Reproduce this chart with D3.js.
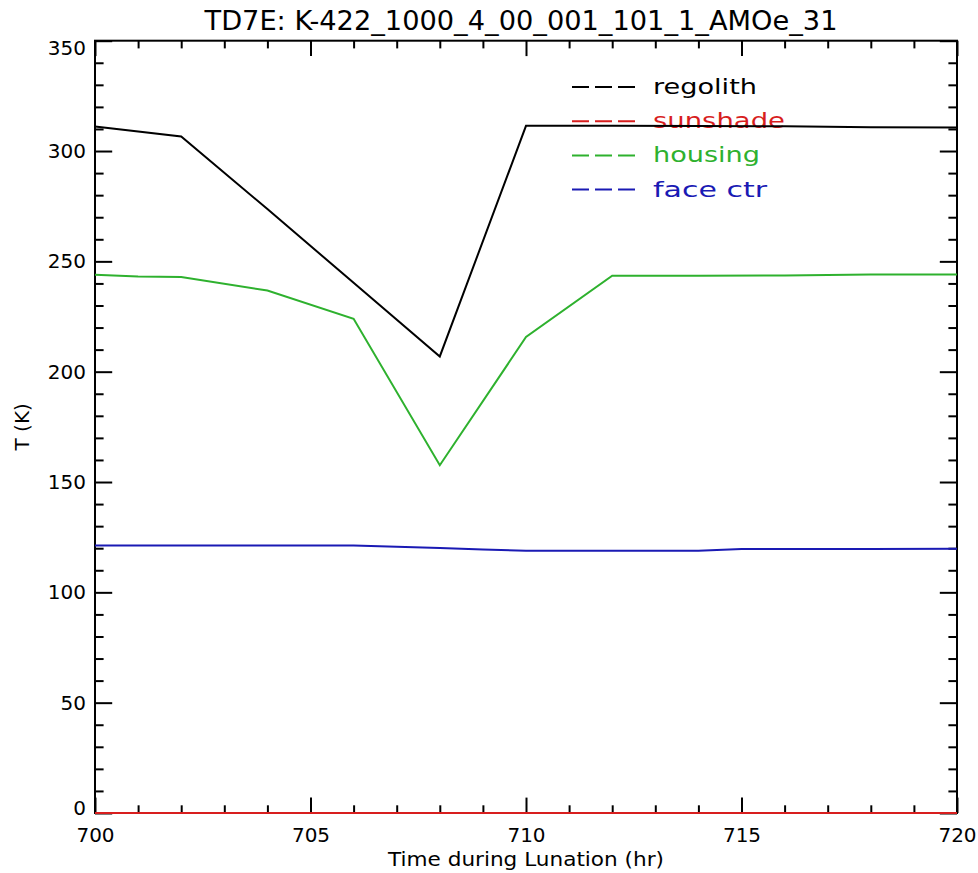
<!DOCTYPE html>
<html>
<head>
<meta charset="utf-8">
<script src="https://cdn.jsdelivr.net/npm/d3@7"></script>
<style>
  html, body { margin: 0; padding: 0; background: #fff; overflow: hidden; }
  svg { display: block; font-family: "DejaVu Sans", sans-serif; }
</style>
</head>
<body>
<svg id="chart" width="978" height="873"></svg>
<script>
// ---- data ----
const chartTitle = "TD7E: K-422_1000_4_00_001_101_1_AMOe_31";
const xLabel = "Time during Lunation (hr)";
const yLabel = "T (K)";
const xTicks = [700, 705, 710, 715, 720];
const yTicks = [0, 50, 100, 150, 200, 250, 300, 350];

const regolithHours = [700, 702, 704, 706, 708, 710, 712, 714, 716, 718, 720];
const regolithT     = [311.1, 306.6, 273.7, 240.3, 206.9, 311.4, 311.4, 311.3, 311.2, 310.8, 310.7];

const sunshadeHours = [700, 720];
const sunshadeT     = [0, 0];

const housingHours = [700, 701, 702, 704, 706, 708, 710, 712, 714, 716, 718, 720];
const housingT     = [243.9, 243.1, 242.9, 236.8, 224.0, 157.6, 215.7, 243.5, 243.5, 243.6, 244.1, 244.1];

const faceHours = [700, 702, 704, 706, 707, 708, 709, 710, 712, 714, 715, 716, 718, 720];
const faceT     = [121.2, 121.2, 121.2, 121.2, 120.7, 120.1, 119.4, 118.9, 118.9, 118.9, 119.6, 119.6, 119.6, 119.7];

const seriesNames  = ["regolith", "sunshade", "housing", "face ctr"];
const seriesColors = ["#000000", "#d81e1e", "#2eb12e", "#1a1ab4"];

// ---- layout ----
const svg = d3.select("#chart");
const L = 95, R = 957, T = 40.7, B = 813;
const x = d3.scaleLinear().domain([700, 720]).range([L, R]);
const y = d3.scaleLinear().domain([0, 350]).range([B, T]);
const xMajLen = 15.4, xMinLen = 7.7, yMajLen = 17.2, yMinLen = 8.6;
const xMinor = d3.range(700, 721, 1).filter(v => !xTicks.includes(v));
const yMinor = d3.range(0, 351, 10).filter(v => !yTicks.includes(v));

function styleAxis(g) {
  g.select(".domain").remove();
  g.selectAll(".tick line").attr("stroke", "#000").attr("stroke-width", 2);
  g.selectAll("text").attr("fill", "#000").attr("font-size", 20)
    .attr("font-family", "DejaVu Sans, sans-serif");
}

// bottom axis
svg.append("g").attr("transform", `translate(0,${B})`)
  .call(d3.axisBottom(x).tickValues(xTicks).tickSizeInner(-xMajLen).tickSizeOuter(0).tickPadding(14.5).tickFormat(d3.format("d")))
  .call(styleAxis);
svg.append("g").attr("transform", `translate(0,${B})`)
  .call(d3.axisBottom(x).tickValues(xMinor).tickSizeInner(-xMinLen).tickSizeOuter(0).tickFormat(""))
  .call(styleAxis);
// top axis
svg.append("g").attr("transform", `translate(0,${T})`)
  .call(d3.axisTop(x).tickValues(xTicks).tickSizeInner(-xMajLen).tickSizeOuter(0).tickFormat(""))
  .call(styleAxis);
svg.append("g").attr("transform", `translate(0,${T})`)
  .call(d3.axisTop(x).tickValues(xMinor).tickSizeInner(-xMinLen).tickSizeOuter(0).tickFormat(""))
  .call(styleAxis);
// left axis
const leftAx = svg.append("g").attr("transform", `translate(${L},0)`)
  .call(d3.axisLeft(y).tickValues(yTicks).tickSizeInner(-yMajLen).tickSizeOuter(0).tickPadding(9).tickFormat(d3.format("d")))
  .call(styleAxis);
leftAx.selectAll(".tick text").attr("dy", d => d === 350 ? "0.67em" : (d === 0 ? "0.05em" : "0.32em"));
svg.append("g").attr("transform", `translate(${L},0)`)
  .call(d3.axisLeft(y).tickValues(yMinor).tickSizeInner(-yMinLen).tickSizeOuter(0).tickFormat(""))
  .call(styleAxis);
// right axis
svg.append("g").attr("transform", `translate(${R},0)`)
  .call(d3.axisRight(y).tickValues(yTicks).tickSizeInner(-yMajLen).tickSizeOuter(0).tickFormat(""))
  .call(styleAxis);
svg.append("g").attr("transform", `translate(${R},0)`)
  .call(d3.axisRight(y).tickValues(yMinor).tickSizeInner(-yMinLen).tickSizeOuter(0).tickFormat(""))
  .call(styleAxis);

// frame
svg.append("rect").attr("x", L).attr("y", T).attr("width", R - L).attr("height", B - T)
  .attr("fill", "none").attr("stroke", "#000").attr("stroke-width", 2);

// titles
svg.append("text").attr("x", 521).attr("y", 30).attr("text-anchor", "middle")
  .attr("font-size", 26).attr("textLength", 633).attr("lengthAdjust", "spacingAndGlyphs")
  .text(chartTitle);
svg.append("text").attr("x", (L + R) / 2).attr("y", 866).attr("text-anchor", "middle")
  .attr("font-size", 20).attr("textLength", 276).attr("lengthAdjust", "spacingAndGlyphs")
  .text(xLabel);
svg.append("text").attr("transform", `translate(29,${(T + B) / 2}) rotate(-90)`)
  .attr("text-anchor", "middle").attr("font-size", 20)
  .text(yLabel);

// legend (drawn beneath the data lines)
const legendWidths = [104, 132, 107, 114];
const legend = svg.append("g");
seriesNames.forEach((name, i) => {
  const ly = 87 + i * 34.2;
  legend.append("line").attr("x1", 572).attr("x2", 635).attr("y1", ly).attr("y2", ly)
    .attr("stroke", seriesColors[i]).attr("stroke-width", 2).attr("stroke-dasharray", "17,6");
  legend.append("text").attr("x", 653).attr("y", ly + 7).attr("font-size", 21)
    .attr("fill", seriesColors[i]).attr("textLength", legendWidths[i]).attr("lengthAdjust", "spacingAndGlyphs")
    .text(name);
});

// data lines
const line = d3.line().x(d => x(d[0])).y(d => y(d[1]));
const series = [
  [regolithHours, regolithT],
  [sunshadeHours, sunshadeT],
  [housingHours, housingT],
  [faceHours, faceT]
];
series.forEach(([hs, ts], i) => {
  svg.append("path").datum(hs.map((h, j) => [h, ts[j]]))
    .attr("d", line).attr("fill", "none")
    .attr("stroke", seriesColors[i]).attr("stroke-width", 2).attr("stroke-linejoin", "miter");
});
</script>
</body>
</html>
